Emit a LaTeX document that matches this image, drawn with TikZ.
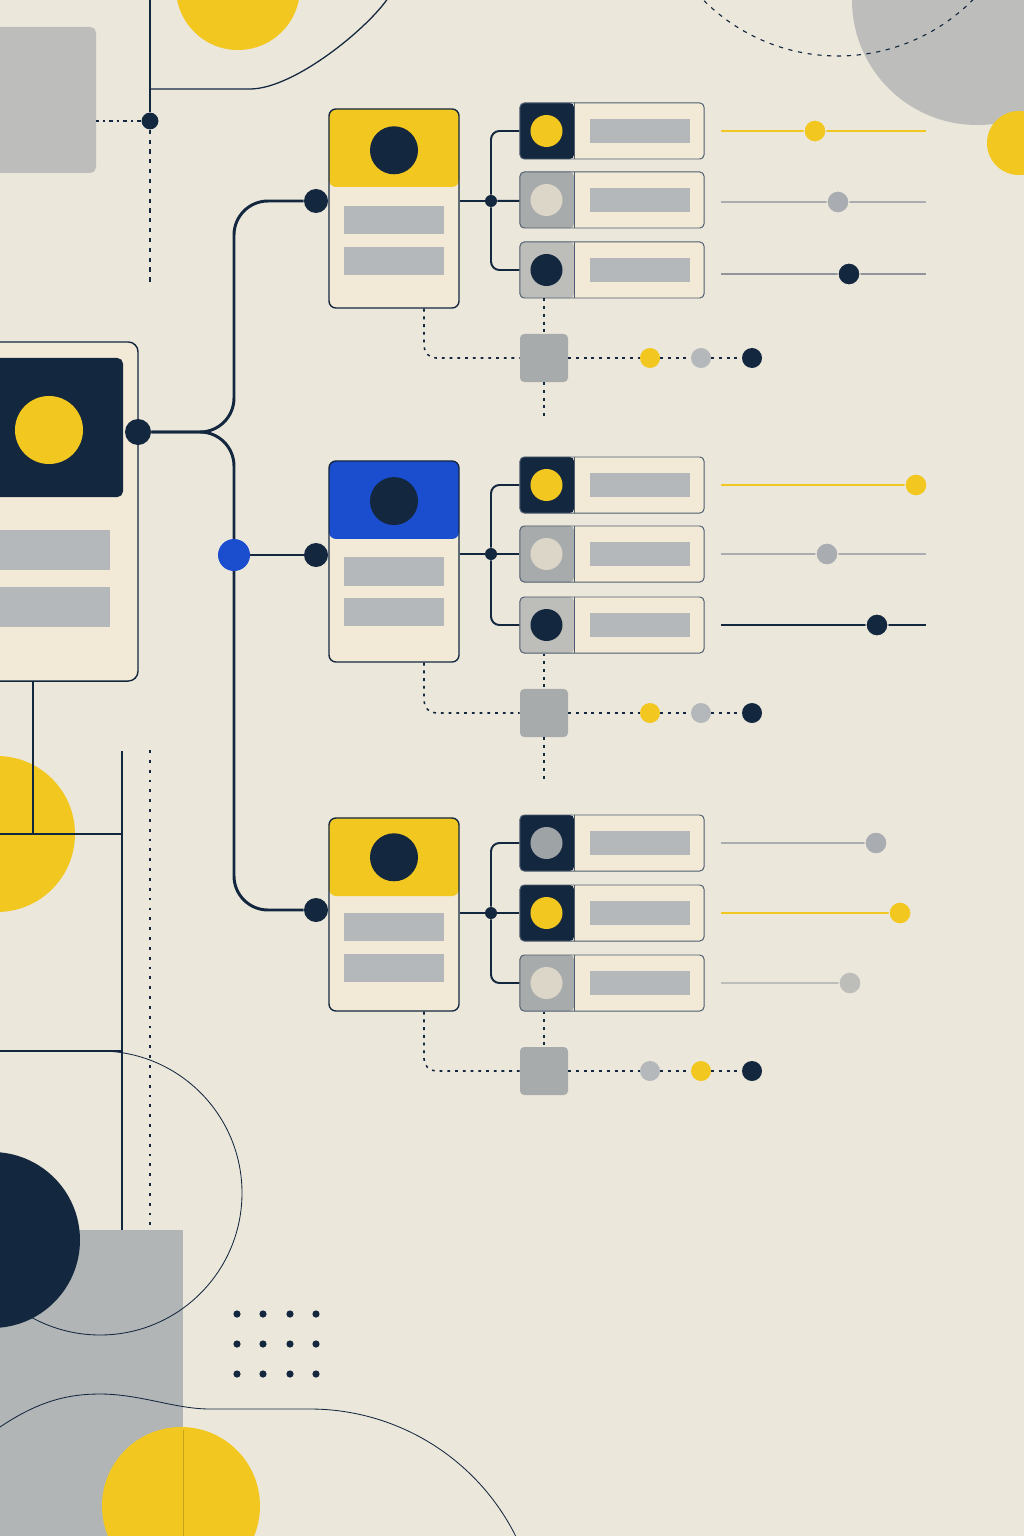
\documentclass[tikz,border=0pt]{standalone}
\usepackage{xcolor}
\usepackage{tikz}
\usetikzlibrary{positioning, calc}
\definecolor{paper}{HTML}{ECE7DB}
\definecolor{navy}{HTML}{13273F}
\definecolor{sun}{HTML}{F2C71F}
\definecolor{royal}{HTML}{1A4ECF}
\definecolor{cardbg}{HTML}{F2EAD7}
\definecolor{bargray}{HTML}{B4B8BA}
\definecolor{boxgray}{HTML}{A8ABAB}
\definecolor{softgray}{HTML}{BDBDBA}
\definecolor{chalk}{HTML}{DCD6C8}
\definecolor{stone}{HTML}{B2B5B6}
\definecolor{mist}{HTML}{BDBDBB}
\definecolor{slate}{HTML}{9EA3A6}
\definecolor{railgray}{HTML}{A9ADB1}
\definecolor{raildark}{HTML}{8F959A}

\begin{document}
\begin{tikzpicture}[x=0.025cm, y=-0.025cm,
    card/.style={rectangle, rounded corners=5pt, draw=navy, line width=1pt,
                 fill=cardbg, minimum width=3.25cm, inner sep=0pt,
                 path picture={\fill[#1] (path picture bounding box.north west)
                   rectangle ([yshift=-1.95cm]path picture bounding box.north east);}},
    item/.style={rectangle, rounded corners=3pt, draw=navy!75, line width=0.7pt,
                 fill=cardbg, minimum width=4.6cm, minimum height=1.4cm, inner sep=0pt,
                 path picture={\fill[#1] (path picture bounding box.north west)
                   rectangle ([xshift=1.35cm]path picture bounding box.south west);
                   \draw[navy!75, line width=0.7pt] ([xshift=1.35cm]path picture bounding box.north west)
                   -- ([xshift=1.35cm]path picture bounding box.south west);}},
    head/.style={circle, fill=navy, minimum size=1.2cm, inner sep=0pt},
    disc/.style={circle, fill=#1, minimum size=0.8cm, inner sep=0pt},
    bar/.style={rectangle, fill=bargray, minimum width=2.5cm, minimum height=0.7cm, inner sep=0pt},
    slot/.style={rectangle, fill=bargray, minimum width=2.5cm, minimum height=0.6cm, inner sep=0pt},
    joint/.style={circle, fill=navy, minimum size=#1, inner sep=0pt},
    knob/.style={circle, fill=#1, draw=paper, line width=0.8pt, minimum size=0.55cm, inner sep=0pt},
    bead/.style={circle, fill=#1, minimum size=0.5cm, inner sep=0pt},
    tile/.style={rectangle, rounded corners=3pt, fill=boxgray, minimum size=1.2cm, inner sep=0pt},
    wire/.style={navy, line width=2.1pt},
    branch/.style={navy, line width=1.4pt, rounded corners=6pt},
    dotline/.style={navy, line width=1.1pt, dash pattern=on 2pt off 3.5pt},
    track/.style={line width=2pt, #1},
    hair/.style={navy, line width=0.9pt}
  ]
    \useasboundingbox (0,0) rectangle (1024,1536);
    \clip (0,0) rectangle (1024,1536);
    \fill[paper] (0,0) rectangle (1024,1536);

    % Backdrop, top
    \fill[mist, rounded corners=4pt] (-10,27) rectangle (96,173);
    \fill[sun] (238,-12) circle[radius=62];
    \fill[mist] (977,0) circle[radius=125];
    \fill[sun] (1019,143) circle[radius=32];
    \draw[navy, line width=0.8pt, dash pattern=on 3pt off 4pt] (838,-134) circle[radius=190];
    \draw[hair] (150,89) -- (250,89) .. controls (295,89) and (372,25) .. (390,-5);
    \node[joint=0.42cm] (tdot) at (150,121) {};
    \draw[hair] (150,0) -- (tdot);
    \draw[navy, line width=0.9pt, dash pattern=on 3pt off 4pt] (tdot) -- (150,283);
    \draw[navy, line width=0.9pt, dash pattern=on 3pt off 3pt on 1pt off 3pt] (tdot) -- (96,121);

    % Backdrop, bottom left
    \fill[sun] (-3,834) circle[radius=78];
    \draw[hair] (33,681) -- (33,834);
    \draw[hair] (0,834) -- (122,834);
    \draw[hair] (122,751) -- (122,1230);
    \draw[navy, line width=1.3pt, dash pattern=on 2pt off 5pt] (150,750) -- (150,1230);
    \draw[hair] (0,1051) -- (122,1051);
    \fill[stone] (0,1230) rectangle (183,1536);
    \draw[navy, line width=0.6pt] (100,1051) arc[start angle=-90, end angle=125, radius=142];
    \fill[navy] (-8,1240) circle[radius=88];
    \draw[navy, line width=0.6pt] (0,1427) .. controls (40,1400) and (70,1394) .. (100,1394)
      .. controls (140,1394) and (175,1409) .. (210,1409) -- (310,1409)
      arc[start angle=-90, end angle=-25, radius=230];
    \fill[sun] (181,1506) circle[radius=79];
    \draw[sun!70!black, line width=0.5pt, opacity=0.6] (183,1430) -- (183,1536);
    \foreach \i in {237,263,290,316}
      \foreach \j in {1314,1344,1374}
        \fill[navy] (\i,\j) circle[radius=3.6];

    % Root card
    \node[rectangle, draw=navy, line width=1pt, fill=cardbg, rounded corners=7pt,
          minimum width=3.95cm, minimum height=8.475cm] (root) at (59,511.5) {};
    \node[rectangle, fill=navy, rounded corners=4pt, minimum width=3.325cm,
          minimum height=3.475cm] (rootimg) at (56.5,427.5) {};
    \node[disc=sun, minimum size=1.7cm] (rootsun) at (49,430) {};
    \node[bar, minimum width=3cm, minimum height=1cm] (rootb1) at (50,550) {};
    \node[bar, minimum width=3cm, minimum height=1cm] (rootb2) at (50,607) {};
    \node[joint=0.65cm] (rdot) at (138,432) {};

    % Cards
    \node[card=sun, minimum height=4.975cm] (c1) at (394,208.5) {};
    \node[head] (h1) at ([yshift=-1.05cm]c1.north) {};
    \node[bar] (b11) at ([yshift=-2.8cm]c1.north) {};
    \node[bar] (b12) at ([yshift=-3.82cm]c1.north) {};
    \node[card=royal, minimum height=5.025cm] (c2) at (394,561.5) {};
    \node[head] (h2) at ([yshift=-1.02cm]c2.north) {};
    \node[bar] (b21) at ([yshift=-2.78cm]c2.north) {};
    \node[bar] (b22) at ([yshift=-3.8cm]c2.north) {};
    \node[card=sun, minimum height=4.825cm] (c3) at (394,914.5) {};
    \node[head] (h3) at ([yshift=-1.0cm]c3.north) {};
    \node[bar] (b31) at ([yshift=-2.75cm]c3.north) {};
    \node[bar] (b32) at ([yshift=-3.77cm]c3.north) {};
    \node[joint=0.6cm] (c1in) at (316,201) {};
    \node[joint=0.6cm] (c2in) at (316,555) {};
    \node[joint=0.6cm] (c3in) at (316,910) {};

    % Wires from root
    \draw[wire, rounded corners=0.85cm] (rdot) -| (234,201) -- (c1in);
    \draw[wire, rounded corners=0.85cm] (rdot) -| (234,910) -- (c3in);
    \node[joint=0.8cm, fill=royal] (hub) at (234,555) {};
    \draw[wire] (hub) -- (c2in);

    % Items, card 1
    \node[item=navy] (it11) at (612,131) {};
    \node[item=boxgray] (it12) at (612,200) {};
    \node[item=softgray] (it13) at (612,270) {};
    \node[disc=sun] (d11) at ([xshift=0.675cm]it11.west) {};
    \node[disc=chalk] (d12) at ([xshift=0.675cm]it12.west) {};
    \node[disc=navy] (d13) at ([xshift=0.675cm]it13.west) {};
    \node[slot] (s11) at ([xshift=3cm]it11.west) {};
    \node[slot] (s12) at ([xshift=3cm]it12.west) {};
    \node[slot] (s13) at ([xshift=3cm]it13.west) {};
    \node[joint=0.3cm] (j1) at (491,201) {};
    \draw[branch] (c1.east |- j1) -- (j1);
    \draw[branch] (j1) |- (it11);
    \draw[branch] (j1) -- (it12);
    \draw[branch] (j1) |- (it13);

    % Items, card 2
    \node[item=navy] (it21) at (612,485) {};
    \node[item=boxgray] (it22) at (612,554) {};
    \node[item=softgray] (it23) at (612,625) {};
    \node[disc=sun] (d21) at ([xshift=0.675cm]it21.west) {};
    \node[disc=chalk] (d22) at ([xshift=0.675cm]it22.west) {};
    \node[disc=navy] (d23) at ([xshift=0.675cm]it23.west) {};
    \node[slot] (s21) at ([xshift=3cm]it21.west) {};
    \node[slot] (s22) at ([xshift=3cm]it22.west) {};
    \node[slot] (s23) at ([xshift=3cm]it23.west) {};
    \node[joint=0.3cm] (j2) at (491,554) {};
    \draw[branch] (c2.east |- j2) -- (j2);
    \draw[branch] (j2) |- (it21);
    \draw[branch] (j2) -- (it22);
    \draw[branch] (j2) |- (it23);

    % Items, card 3
    \node[item=navy] (it31) at (612,843) {};
    \node[item=navy] (it32) at (612,913) {};
    \node[item=boxgray] (it33) at (612,983) {};
    \node[disc=slate] (d31) at ([xshift=0.675cm]it31.west) {};
    \node[disc=sun] (d32) at ([xshift=0.675cm]it32.west) {};
    \node[disc=chalk] (d33) at ([xshift=0.675cm]it33.west) {};
    \node[slot] (s31) at ([xshift=3cm]it31.west) {};
    \node[slot] (s32) at ([xshift=3cm]it32.west) {};
    \node[slot] (s33) at ([xshift=3cm]it33.west) {};
    \node[joint=0.3cm] (j3) at (491,913) {};
    \draw[branch] (c3.east |- j3) -- (j3);
    \draw[branch] (j3) |- (it31);
    \draw[branch] (j3) -- (it32);
    \draw[branch] (j3) |- (it33);

    % Sliders
    \draw[track=sun] (721,131) -- (926,131);
    \node[knob=sun] (n11) at (815,131) {};
    \draw[track=railgray] (721,202) -- (926,202);
    \node[knob=railgray] (n12) at (838,202) {};
    \draw[track=raildark] (721,274) -- (926,274);
    \node[knob=navy] (n13) at (849,274) {};
    \draw[track=sun] (721,485) -- (916,485);
    \node[knob=sun] (n21) at (916,485) {};
    \draw[track=railgray] (721,554) -- (926,554);
    \node[knob=railgray] (n22) at (827,554) {};
    \draw[track=navy] (721,625) -- (926,625);
    \node[knob=navy] (n23) at (877,625) {};
    \draw[track=railgray] (721,843) -- (876,843);
    \node[knob=railgray] (n31) at (876,843) {};
    \draw[track=sun] (721,913) -- (900,913);
    \node[knob=sun] (n32) at (900,913) {};
    \draw[track=softgray] (721,983) -- (850,983);
    \node[knob=softgray] (n33) at (850,983) {};

    % Dotted trails
    \node[tile] (q1) at (544,358) {};
    \node[bead=sun] (e11) at (650,358) {};
    \node[bead=bargray] (e12) at (701,358) {};
    \node[bead=navy] (e13) at (752,358) {};
    \draw[dotline, rounded corners=0.3cm] ([xshift=0.75cm]c1.south) |- (q1);
    \draw[dotline] (q1) -- (e11) (e11) -- (e12) (e12) -- (e13);
    \draw[dotline] (q1 |- it13.south) -- (q1) (q1) -- (544,420);

    \node[tile] (q2) at (544,713) {};
    \node[bead=sun] (e21) at (650,713) {};
    \node[bead=bargray] (e22) at (701,713) {};
    \node[bead=navy] (e23) at (752,713) {};
    \draw[dotline, rounded corners=0.3cm] ([xshift=0.75cm]c2.south) |- (q2);
    \draw[dotline] (q2) -- (e21) (e21) -- (e22) (e22) -- (e23);
    \draw[dotline] (q2 |- it23.south) -- (q2) (q2) -- (544,780);

    \node[tile] (q3) at (544,1071) {};
    \node[bead=bargray] (e31) at (650,1071) {};
    \node[bead=sun] (e32) at (701,1071) {};
    \node[bead=navy] (e33) at (752,1071) {};
    \draw[dotline, rounded corners=0.3cm] ([xshift=0.75cm]c3.south) |- (q3);
    \draw[dotline] (q3) -- (e31) (e31) -- (e32) (e32) -- (e33);
    \draw[dotline] (q3 |- it33.south) -- (q3);
  \end{tikzpicture}
\end{document}
